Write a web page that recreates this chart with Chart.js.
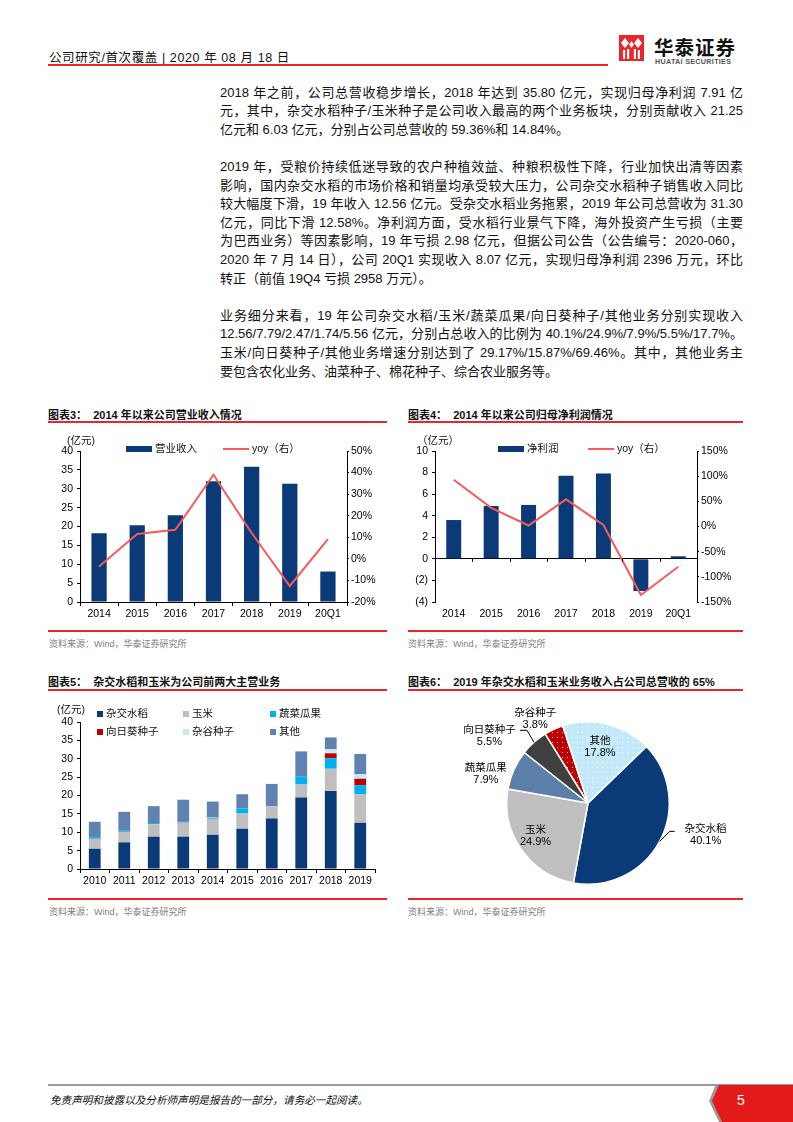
<!DOCTYPE html>
<html lang="zh-CN">
<head>
<meta charset="utf-8">
<script src="https://cdn.jsdelivr.net/npm/chart.js@4.4.0/dist/chart.umd.min.js"></script>
<style>
    body { margin: 0; background: #fff; }
    #page { position: relative; width: 793px; height: 1122px; overflow: hidden; color: #111;
            font-family: "Liberation Sans", "Noto Sans CJK SC", sans-serif; }
    .abs { position: absolute; }
    .hdr { left: 49px; top: 47px; font-size: 12.5px; letter-spacing: 0.6px; white-space: nowrap; }
    .red { background: #E8262B; }
    .txt { left: 220px; top: 83.7px; width: 523px; font-size: 13px; line-height: 18.6px; }
    .ln { white-space: nowrap; text-align: justify; text-align-last: justify; overflow: hidden; }
    .ln.last { text-align-last: left; }
    .gap { height: 18.6px; }
    .ttl { font-size: 11px; font-weight: bold; white-space: nowrap; font-family: "Liberation Sans", "Noto Sans CJK SC"; }
    .src { font-size: 9px; color: #808080; white-space: nowrap; }
    .box { position: absolute; width: 355px; height: 200px; }
    .unit { font-size: 10.5px; white-space: nowrap; }
    .lg { position: absolute; font-size: 10.5px; white-space: nowrap; line-height: 12px; }
    .lg i { display: inline-block; vertical-align: middle; margin-right: 3px; }
</style>
</head>
<body>
<div id="page">
    <!-- 頁首 -->
    <div class="abs hdr">公司研究/首次覆盖 | 2020 年 08 月 18 日</div>
    <div class="abs red" style="left:48px;top:64px;width:560px;height:2px;"></div>
    <svg class="abs" style="left:619px;top:35px;" width="25" height="26" viewBox="0 0 25 26">
        <rect x="0" y="0" width="25" height="26" fill="#E8262B"/>
        <polygon points="6,3 10,8 6,13 2,8" fill="#fff"/>
        <polygon points="19,3 23,8 19,13 15,8" fill="#fff"/>
        <polygon points="12.5,6 15,9.5 12.5,13 10,9.5" fill="#fff"/>
        <rect x="4" y="15" width="2.2" height="9" fill="#fff"/>
        <rect x="8" y="14" width="2.2" height="10" fill="#fff"/>
        <rect x="14.8" y="14" width="2.2" height="10" fill="#fff"/>
        <rect x="18.8" y="15" width="2.2" height="9" fill="#fff"/>
    </svg>
    <div class="abs" style="left:654px;top:32px;font-size:19.5px;font-weight:bold;font-family:'Noto Sans CJK SC';letter-spacing:1px;white-space:nowrap;">华泰证券</div>
    <div class="abs" style="left:655px;top:57px;font-size:7.2px;color:#555;font-weight:bold;letter-spacing:0.3px;white-space:nowrap;">HUATAI SECURITIES</div>

    <!-- 正文 -->
    <div class="abs txt" id="bodyText"></div>

    <!-- 图表3 / 图表4 -->
    <div class="abs ttl" style="left:48px;top:406px;">图表3：&nbsp; 2014 年以来公司营业收入情况</div>
    <div class="abs red" style="left:48px;top:421px;width:339px;height:1.5px;"></div>
    <div class="abs ttl" style="left:408px;top:406px;">图表4：&nbsp; 2014 年以来公司归母净利润情况</div>
    <div class="abs red" style="left:408px;top:421px;width:335px;height:1.5px;"></div>

    <div class="box" style="left:40px;top:428px;"><canvas id="chartRevenue"></canvas></div>
    <div class="box" style="left:400px;top:428px;"><canvas id="chartProfit"></canvas></div>
    <div class="abs unit" style="left:67px;top:432px;">(亿元)</div>
    <div class="abs unit" style="left:417px;top:432px;">（亿元）</div>
    <div id="lgRevenue"></div>
    <div id="lgProfit"></div>

    <div class="abs red" style="left:48px;top:630px;width:339px;height:1.5px;"></div>
    <div class="abs src" style="left:49px;top:637px;">资料来源：Wind，华泰证券研究所</div>
    <div class="abs red" style="left:408px;top:630px;width:335px;height:1.5px;"></div>
    <div class="abs src" style="left:408px;top:637px;">资料来源：Wind，华泰证券研究所</div>

    <!-- 图表5 / 图表6 -->
    <div class="abs ttl" style="left:48px;top:673px;">图表5：&nbsp; 杂交水稻和玉米为公司前两大主营业务</div>
    <div class="abs red" style="left:48px;top:689px;width:339px;height:1.5px;"></div>
    <div class="abs ttl" style="left:408px;top:673px;">图表6：&nbsp; 2019 年杂交水稻和玉米业务收入占公司总营收的 65%</div>
    <div class="abs red" style="left:408px;top:689px;width:335px;height:1.5px;"></div>

    <div class="box" style="left:40px;top:695px;"><canvas id="chartSegment"></canvas></div>
    <div class="box" style="left:400px;top:695px;"><canvas id="chartPie"></canvas></div>
    <div class="abs unit" style="left:57px;top:701px;">(亿元)</div>
    <div id="lgSegment"></div>

    <div class="abs red" style="left:48px;top:898px;width:339px;height:1.5px;"></div>
    <div class="abs src" style="left:49px;top:905px;">资料来源：Wind，华泰证券研究所</div>
    <div class="abs red" style="left:408px;top:898px;width:335px;height:1.5px;"></div>
    <div class="abs src" style="left:408px;top:905px;">资料来源：Wind，华泰证券研究所</div>

    <!-- 頁尾 -->
    <div class="abs" style="left:48px;top:1084px;width:670px;height:1.5px;background:#9a9a9a;"></div>
    <div class="abs" style="left:50px;top:1092px;font-size:10.6px;font-style:italic;white-space:nowrap;">免责声明和披露以及分析师声明是报告的一部分，请务必一起阅读。</div>
    <svg class="abs" style="left:700px;top:1084px;" width="93" height="38">
        <polygon points="16,0 93,0 93,38 19,38 9,17" fill="#9a9a9a"/>
        <polygon points="19,1 93,1 93,38 22,38 12,17" fill="#E31A1A"/>
    </svg>
    <div class="abs" style="left:737px;top:1092px;font-size:14px;color:#fff;">5</div>
</div>

<script>
// ── 数据 ───────────────────────────────────────────────────────────────────
var years = ['2014', '2015', '2016', '2017', '2018', '2019', '20Q1'];
var revenue = [18.2, 20.3, 23.0, 32.0, 35.8, 31.3, 8.07];
var revenueYoy = [-3.5, 11.5, 13.5, 39.0, 12.0, -12.58, 9.2];
var netProfit = [3.6, 4.9, 5.0, 7.7, 7.91, -2.98, 0.24];
var netProfitYoy = [93, 37, 2, 54, 3, -136, -80];

var segYears = ['2010', '2011', '2012', '2013', '2014', '2015', '2016', '2017', '2018', '2019'];
var segNames = ['杂交水稻', '玉米', '蔬菜瓜果', '向日葵种子', '杂谷种子', '其他'];
var segRice = [5.5, 7.25, 8.8, 8.8, 9.3, 10.95, 13.75, 19.45, 21.25, 12.56];
var segCorn = [2.7, 2.85, 3.4, 3.8, 4.35, 4.15, 3.35, 3.55, 6.03, 7.79];
var segVeg = [0.45, 0.3, 0.3, 0.25, 0.3, 1.35, 0, 2.1, 2.85, 2.47];
var segSunflower = [0, 0, 0, 0, 0, 0, 0, 0, 1.35, 1.74];
var segMillet = [0, 0, 0, 0, 0.1, 0, 0, 0, 1.1, 1.19];
var segOther = [4.2, 5.15, 4.6, 6.0, 4.3, 3.9, 6.05, 6.9, 3.22, 5.56];

var pieNames = ['杂交水稻', '玉米', '蔬菜瓜果', '向日葵种子', '杂谷种子', '其他'];
var pieShare = [40.1, 24.9, 7.9, 5.5, 3.8, 17.8];

var paragraphs = [
    ['2018 年之前，公司总营收稳步增长，2018 年达到 35.80 亿元，实现归母净利润 7.91 亿',
     '元，其中，杂交水稻种子/玉米种子是公司收入最高的两个业务板块，分别贡献收入 21.25',
     '亿元和 6.03 亿元，分别占公司总营收的 59.36%和 14.84%。'],
    ['2019 年，受粮价持续低迷导致的农户种植效益、种粮积极性下降，行业加快出清等因素',
     '影响，国内杂交水稻的市场价格和销量均承受较大压力，公司杂交水稻种子销售收入同比',
     '较大幅度下滑，19 年收入 12.56 亿元。受杂交水稻业务拖累，2019 年公司总营收为 31.30',
     '亿元，同比下滑 12.58%。净利润方面，受水稻行业景气下降，海外投资产生亏损（主要',
     '为巴西业务）等因素影响，19 年亏损 2.98 亿元，但据公司公告（公告编号：2020-060，',
     '2020 年 7 月 14 日），公司 20Q1 实现收入 8.07 亿元，实现归母净利润 2396 万元，环比',
     '转正（前值 19Q4 亏损 2958 万元）。'],
    ['业务细分来看，19 年公司杂交水稻/玉米/蔬菜瓜果/向日葵种子/其他业务分别实现收入',
     '12.56/7.79/2.47/1.74/5.56 亿元，分别占总收入的比例为 40.1%/24.9%/7.9%/5.5%/17.7%。',
     '玉米/向日葵种子/其他业务增速分别达到了 29.17%/15.87%/69.46%。其中，其他业务主',
     '要包含农化业务、油菜种子、棉花种子、综合农业服务等。']
];

(function () {
    'use strict';

    var NAVY = '#0B3A78';
    var LINE_RED = '#F65A5B';
    var FONT = { family: "'Liberation Sans', 'Noto Sans CJK SC', sans-serif", size: 10.5 };

    Chart.defaults.font.family = FONT.family;
    Chart.defaults.font.size = FONT.size;
    Chart.defaults.color = '#000';
    Chart.defaults.animation = false;

    // ── 正文 ──────────────────────────────────────────────────────────────────
    function renderText() {
        var box = document.getElementById('bodyText');
        paragraphs.forEach(function (lines, p) {
            if (p > 0) {
                var g = document.createElement('div');
                g.className = 'gap';
                box.appendChild(g);
            }
            lines.forEach(function (t, i) {
                var d = document.createElement('div');
                d.className = 'ln' + (i === lines.length - 1 ? ' last' : '');
                d.textContent = t;
                box.appendChild(d);
                var fs = 13;
                while (d.scrollWidth > d.clientWidth + 0.5 && fs > 10) {
                    fs -= 0.1;
                    d.style.fontSize = fs + 'px';
                }
            });
        });
    }

    // ── 图例 ──────────────────────────────────────────────────────────────────
    function legendItem(parent, left, top, marker, text) {
        var el = document.createElement('div');
        el.className = 'lg';
        el.style.left = left + 'px';
        el.style.top = top + 'px';
        var m = document.createElement('i');
        m.style.width = marker.w + 'px';
        m.style.height = marker.h + 'px';
        m.style.background = marker.c;
        el.appendChild(m);
        el.appendChild(document.createTextNode(text));
        parent.appendChild(el);
    }

    // ── 座标轴 ────────────────────────────────────────────────────────────────
    function fixedWidth(w) { return function (s) { s.width = w; }; }
    function fixedHeight(h) { return function (s) { s.height = h; }; }

    function axisY(opts) {
        return {
            type: 'linear',
            position: opts.position,
            min: opts.min, max: opts.max,
            afterFit: fixedWidth(opts.width),
            border: { display: true, color: '#000', width: 1 },
            grid: {
                drawOnChartArea: !!opts.zeroLine,
                color: function (ctx) { return opts.zeroLine && ctx.tick && ctx.tick.value === 0 ? '#000' : 'rgba(0,0,0,0)'; },
                tickColor: '#000',
                tickLength: opts.tickLength || 3
            },
            ticks: {
                stepSize: opts.step,
                padding: opts.padding || 4,
                color: '#000',
                font: FONT,
                callback: opts.format
            }
        };
    }

    function axisX(height, showBorder) {
        return {
            afterFit: fixedHeight(height),
            border: { display: showBorder, color: '#000', width: 1 },
            grid: { drawOnChartArea: false, color: '#000', tickLength: showBorder ? 4 : 0, drawTicks: showBorder },
            ticks: { padding: showBorder ? 2 : 6, color: '#000', font: FONT, maxRotation: 0, autoSkip: false }
        };
    }

    // 零轴上的分类刻度（净利润图的横轴落在 0 处）
    var zeroTicks = {
        id: 'zeroTicks',
        afterDraw: function (chart) {
            var xs = chart.scales.x, ys = chart.scales.y;
            var y0 = ys.getPixelForValue(0);
            var n = xs.ticks.length;
            var step = (xs.right - xs.left) / n;
            var ctx = chart.ctx;
            ctx.save();
            ctx.strokeStyle = '#000';
            ctx.lineWidth = 1;
            ctx.beginPath();
            for (var i = 0; i <= n; i++) {
                var x = Math.round(xs.left + i * step) + 0.5;
                ctx.moveTo(x, y0);
                ctx.lineTo(x, y0 + 3);
            }
            ctx.stroke();
            ctx.restore();
        }
    };

    // ── 营业收入 ──────────────────────────────────────────────────────────────
    function renderRevenue() {
        new Chart(document.getElementById('chartRevenue'), {
            type: 'bar',
            data: {
                labels: years,
                datasets: [{
                    type: 'line', label: 'yoy（右）', data: revenueYoy, yAxisID: 'y1',
                    borderColor: LINE_RED, borderWidth: 2, pointRadius: 0, tension: 0, order: 0
                }, {
                    label: '营业收入', data: revenue, yAxisID: 'y',
                    backgroundColor: NAVY, categoryPercentage: 1, barPercentage: 0.4, order: 1
                }]
            },
            options: {
                responsive: true, maintainAspectRatio: false,
                layout: { padding: { top: 23, left: 0, right: 0, bottom: 0 } },
                plugins: { legend: { display: false }, tooltip: { enabled: false } },
                scales: {
                    x: axisX(26, true),
                    y: axisY({ position: 'left', min: 0, max: 40, step: 5, width: 40 }),
                    y1: axisY({ position: 'right', min: -20, max: 50, step: 10, width: 48, tickLength: 2, padding: 2,
                                format: function (v) { return v + '%'; } })
                }
            }
        });
        var lg = document.getElementById('lgRevenue');
        legendItem(lg, 126, 442, { w: 26, h: 6, c: NAVY }, '营业收入');
        legendItem(lg, 223, 442, { w: 26, h: 2, c: LINE_RED }, 'yoy（右）');
    }

    // ── 归母净利润 ────────────────────────────────────────────────────────────
    function renderProfit() {
        new Chart(document.getElementById('chartProfit'), {
            type: 'bar',
            data: {
                labels: years,
                datasets: [{
                    type: 'line', label: 'yoy（右）', data: netProfitYoy, yAxisID: 'y1',
                    borderColor: LINE_RED, borderWidth: 2, pointRadius: 0, tension: 0, order: 0
                }, {
                    label: '净利润', data: netProfit, yAxisID: 'y',
                    backgroundColor: NAVY, categoryPercentage: 1, barPercentage: 0.4, order: 1
                }]
            },
            options: {
                responsive: true, maintainAspectRatio: false,
                layout: { padding: { top: 23, left: 0, right: 0, bottom: 0 } },
                plugins: { legend: { display: false }, tooltip: { enabled: false } },
                scales: {
                    x: axisX(26, false),
                    y: axisY({ position: 'left', min: -4, max: 10, step: 2, width: 35, zeroLine: true,
                               format: function (v) { return v < 0 ? '(' + (-v) + ')' : String(v); } }),
                    y1: axisY({ position: 'right', min: -150, max: 150, step: 50, width: 58, tickLength: 2, padding: 2,
                                format: function (v) { return v + '%'; } })
                }
            },
            plugins: [zeroTicks]
        });
        var lg = document.getElementById('lgProfit');
        legendItem(lg, 498, 442, { w: 26, h: 6, c: NAVY }, '净利润');
        legendItem(lg, 588, 442, { w: 26, h: 2, c: LINE_RED }, 'yoy（右）');
    }

    // ── 分业务收入（堆叠）────────────────────────────────────────────────────
    function renderSegment() {
        var series = [segRice, segCorn, segVeg, segSunflower, segMillet, segOther];
        var colors = [NAVY, '#BFBFBF', '#00B0F0', '#C00000', '#C5E9FA', '#5F82B0'];
        new Chart(document.getElementById('chartSegment'), {
            type: 'bar',
            data: {
                labels: segYears,
                datasets: series.map(function (d, i) {
                    return { label: segNames[i], data: d, backgroundColor: colors[i], stack: 's',
                             categoryPercentage: 1, barPercentage: 0.4 };
                })
            },
            options: {
                responsive: true, maintainAspectRatio: false,
                layout: { padding: { top: 27, left: 0, right: 20, bottom: 0 } },
                plugins: { legend: { display: false }, tooltip: { enabled: false } },
                scales: {
                    x: Object.assign(axisX(26, true), { stacked: true }),
                    y: Object.assign(axisY({ position: 'left', min: 0, max: 40, step: 5, width: 40 }), { stacked: true })
                }
            }
        });
        var lg = document.getElementById('lgSegment');
        var cols = [97, 183, 270];
        segNames.forEach(function (n, i) {
            legendItem(lg, cols[i % 3], i < 3 ? 707 : 725, { w: 6, h: 6, c: colors[i] }, n);
        });
    }

    // ── 饼图 ──────────────────────────────────────────────────────────────────
    function dotPattern(bg) {
        var c = document.createElement('canvas');
        c.width = 5; c.height = 5;
        var g = c.getContext('2d');
        g.fillStyle = bg;
        g.fillRect(0, 0, 5, 5);
        g.fillStyle = 'rgba(255,255,255,0.85)';
        g.fillRect(2, 2, 1, 1);
        return g.createPattern(c, 'repeat');
    }

    // 标签相对扇区中线的位置：半径倍数 f、角度偏移 da（度），可选引线
    var PIE_LABEL = [
        { f: 1.50, da: -13, lead: [[10, -10], [5, 0]] },
        { f: 0.76, da: 3 },
        { f: 1.31, da: -8 },
        { f: 1.47, da: -14, lead: [[-7, -12], [-7, 0]] },
        { f: 1.23, da: -7 },
        { f: 0.71, da: -2 }
    ];

    var pieLabels = {
        id: 'pieLabels',
        afterDatasetsDraw: function (chart) {
            var ctx = chart.ctx;
            var meta = chart.getDatasetMeta(0);
            ctx.save();
            meta.data.forEach(function (arc, i) {
                var p = arc.getProps(['x', 'y', 'startAngle', 'endAngle', 'outerRadius'], true);
                var mid = (p.startAngle + p.endAngle) / 2;
                var cfg = PIE_LABEL[i];
                if (cfg.lead) {
                    var x0 = p.x + Math.cos(mid) * p.outerRadius;
                    var y0 = p.y + Math.sin(mid) * p.outerRadius;
                    ctx.beginPath();
                    ctx.moveTo(x0, y0);
                    cfg.lead.forEach(function (s) { x0 += s[0]; y0 += s[1]; ctx.lineTo(x0, y0); });
                    ctx.strokeStyle = '#000';
                    ctx.lineWidth = 1;
                    ctx.stroke();
                }
                var a = mid + cfg.da * Math.PI / 180;
                var x = p.x + Math.cos(a) * p.outerRadius * cfg.f;
                var y = p.y + Math.sin(a) * p.outerRadius * cfg.f;
                ctx.fillStyle = '#000';
                ctx.textAlign = 'center';
                ctx.textBaseline = 'middle';
                ctx.font = "10.5px 'Noto Sans CJK SC', sans-serif";
                ctx.fillText(pieNames[i], x, y - 6.5);
                ctx.font = "11px 'Liberation Sans', sans-serif";
                ctx.fillText(pieShare[i].toFixed(1) + '%', x, y + 6.5);
            });
            ctx.restore();
        }
    };

    function renderPie() {
        new Chart(document.getElementById('chartPie'), {
            type: 'pie',
            data: {
                labels: pieNames,
                datasets: [{
                    data: pieShare,
                    backgroundColor: [NAVY, '#BFBFBF', '#5B7FA8', '#404040', dotPattern('#C00000'), dotPattern('#C3E8FA')],
                    borderColor: '#fff',
                    borderWidth: 1.5
                }]
            },
            options: {
                responsive: true, maintainAspectRatio: false,
                rotation: 46,
                layout: { padding: { top: 26, left: 106, right: 85, bottom: 10 } },
                plugins: { legend: { display: false }, tooltip: { enabled: false } }
            },
            plugins: [pieLabels]
        });
    }

    function init() {
        renderText();
        renderRevenue();
        renderProfit();
        renderSegment();
        renderPie();
    }

    init();
})();
</script>
</body>
</html>
